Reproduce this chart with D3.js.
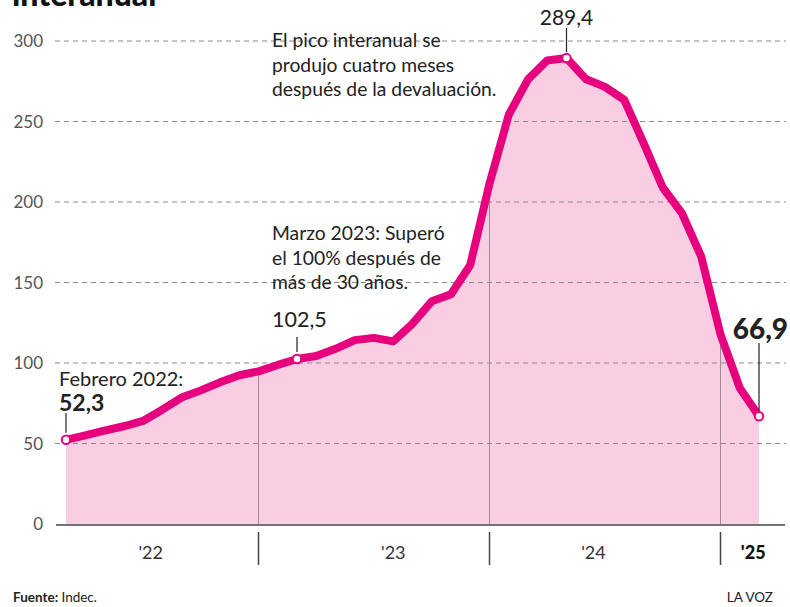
<!DOCTYPE html>
<html>
<head>
<meta charset="utf-8">
<script src="https://cdn.jsdelivr.net/npm/d3@7"></script>
<style>
  body { margin: 0; background: #fff; }
  svg { display: block; font-family: Lato, "Open Sans", sans-serif; }
  .grid line { stroke: #8a8a8a; stroke-dasharray: 5,4; stroke-width: 1; }
  .ytick { fill: #555; font-size: 17px; }
  .note { fill: #222; font-size: 19.3px; }
  .year { fill: #333; font-size: 18px; }
</style>
</head>
<body>
<div id="chart"></div>
<script>
// Inflación interanual (%), febrero 2022 - febrero 2025
var months = [
  '2022-02', '2022-03', '2022-04', '2022-05', '2022-06', '2022-07', '2022-08',
  '2022-09', '2022-10', '2022-11', '2022-12',
  '2023-01', '2023-02', '2023-03', '2023-04', '2023-05', '2023-06', '2023-07',
  '2023-08', '2023-09', '2023-10', '2023-11', '2023-12',
  '2024-01', '2024-02', '2024-03', '2024-04', '2024-05', '2024-06', '2024-07',
  '2024-08', '2024-09', '2024-10', '2024-11', '2024-12',
  '2025-01', '2025-02'
];
var inflation = [
  52.3, 55.1, 58.0, 60.7, 64.0, 71.0, 78.5, 83.0, 88.0, 92.4, 94.8,
  98.8, 102.5, 104.3, 108.8, 114.2, 115.6, 113.4, 124.4, 138.3, 142.7, 160.9, 211.4,
  254.2, 276.2, 287.9, 289.4, 276.4, 271.5, 263.4, 236.7, 209.0, 193.0, 166.0, 117.8,
  84.5, 66.9
];
var yTicks = [0, 50, 100, 150, 200, 250, 300];
// separadores de año (en el mes de diciembre) y etiquetas de año
var yearBreaks = ['2022-12', '2023-12', '2024-12'];
var yearLabels = ["'22", "'23", "'24", "'25"];
var yearLabelAt = [4.4, 17.0, 27.4, 35.7];
var highlights = ['2022-02', '2023-02', '2024-04', '2025-02'];

var frame = { width: 790, height: 607 };

var x = d3.scaleLinear()
  .domain([0, months.length - 1])
  .range([66, 759]);

var y = d3.scaleLinear()
  .domain([0, 300])
  .range([524, 41]);

var data = months.map(function (m, i) {
  return { month: m, i: i, value: inflation[i] };
});

var svg = d3.select('#chart').append('svg')
  .attr('width', frame.width)
  .attr('height', frame.height);

// titulo cortado arriba
svg.append('text')
  .attr('x', 12)
  .attr('y', 6)
  .style('font-size', '32px')
  .style('font-weight', 900)
  .style('fill', '#111')
  .text('interanual');

// area
var area = d3.area()
  .x(function (d) { return x(d.i); })
  .y0(y(0))
  .y1(function (d) { return y(d.value); });

svg.append('path')
  .datum(data)
  .attr('d', area)
  .style('fill', '#f9cde2');

// grid
svg.append('g')
  .attr('class', 'grid')
  .selectAll('line')
  .data(yTicks.filter(function (t) { return t > 0; }))
  .enter().append('line')
  .attr('x1', 55)
  .attr('x2', 786)
  .attr('y1', function (d) { return y(d); })
  .attr('y2', function (d) { return y(d); });

svg.append('g')
  .selectAll('text')
  .data(yTicks)
  .enter().append('text')
  .attr('class', 'ytick')
  .attr('x', 43)
  .attr('y', function (d) { return y(d); })
  .attr('dy', '0.36em')
  .style('text-anchor', 'end')
  .text(function (d) { return d; });

// lineas verticales dentro del area
yearBreaks.forEach(function (m) {
  var i = months.indexOf(m);
  svg.append('line')
    .attr('x1', x(i)).attr('x2', x(i))
    .attr('y1', y(0)).attr('y2', y(inflation[i]))
    .style('stroke', '#a08a96')
    .style('stroke-width', 1);
  svg.append('line')
    .attr('x1', x(i)).attr('x2', x(i))
    .attr('y1', 532).attr('y2', 565)
    .style('stroke', '#444')
    .style('stroke-width', 1.5);
});

// eje x
svg.append('line')
  .attr('x1', 56).attr('x2', 785)
  .attr('y1', y(0) + 1).attr('y2', y(0) + 1)
  .style('stroke', '#444')
  .style('stroke-width', 1.6);

svg.append('g')
  .selectAll('text')
  .data(yearLabels)
  .enter().append('text')
  .attr('class', 'year')
  .attr('x', function (d, i) { return x(yearLabelAt[i]); })
  .attr('y', 559)
  .style('text-anchor', 'middle')
  .style('font-weight', function (d, i) { return i === yearLabels.length - 1 ? 900 : 400; })
  .style('fill', function (d, i) { return i === yearLabels.length - 1 ? '#111' : '#333'; })
  .text(function (d) { return d; });

// linea
var line = d3.line()
  .x(function (d) { return x(d.i); })
  .y(function (d) { return y(d.value); });

svg.append('path')
  .datum(data)
  .attr('d', line)
  .style('fill', 'none')
  .style('stroke', '#e6007e')
  .style('stroke-width', 8)
  .style('stroke-linejoin', 'round');

// guias de anotaciones
function leader(i, yTop, yBot) {
  svg.append('line')
    .attr('x1', x(i)).attr('x2', x(i))
    .attr('y1', yTop).attr('y2', yBot)
    .style('stroke', '#222')
    .style('stroke-width', 1.2);
}
leader(0, 413, y(inflation[0]) - 7);
leader(12, 337, y(inflation[12]) - 7);
leader(26, 28, y(inflation[26]) - 6);
leader(36, 343, y(inflation[36]) - 6);

svg.append('g')
  .selectAll('circle')
  .data(data.filter(function (d) { return highlights.indexOf(d.month) >= 0; }))
  .enter().append('circle')
  .attr('cx', function (d) { return x(d.i); })
  .attr('cy', function (d) { return y(d.value); })
  .attr('r', 4.2)
  .style('fill', '#fff')
  .style('stroke', '#e6007e')
  .style('stroke-width', 2);

// textos
function note(lines, xp, y0, size, weight, anchor) {
  var t = svg.append('text')
    .attr('class', 'note')
    .attr('x', xp)
    .attr('y', y0)
    .style('text-anchor', anchor || 'start');
  if (size) t.style('font-size', size + 'px');
  if (weight) t.style('font-weight', weight);
  lines.forEach(function (l, k) {
    t.append('tspan').attr('x', xp).attr('dy', k === 0 ? 0 : 24.5).text(l);
  });
}
note(['El pico interanual se', 'produjo cuatro meses', 'después de la devaluación.'], 272, 47);
note(['Marzo 2023: Superó', 'el 100% después de', 'más de 30 años.'], 272, 240);
note(['Febrero 2022:'], 59, 386, 20);
note(['52,3'], 59, 411, 23, 700);
note(['102,5'], 272, 327, 21.5);
note(['289,4'], x(26), 25, 21, 400, 'middle');
note(['66,9'], 788, 339, 28, 900, 'end');

// pie
svg.append('text')
  .attr('x', 13)
  .attr('y', 602)
  .style('font-size', '13.5px')
  .style('fill', '#222')
  .call(function (t) {
    t.append('tspan').style('font-weight', 700).text('Fuente: ');
    t.append('tspan').text('Indec.');
  });

svg.append('text')
  .attr('x', 773)
  .attr('y', 602)
  .style('font-size', '13.5px')
  .style('fill', '#222')
  .style('text-anchor', 'end')
  .text('LA VOZ');
</script>
</body>
</html>
